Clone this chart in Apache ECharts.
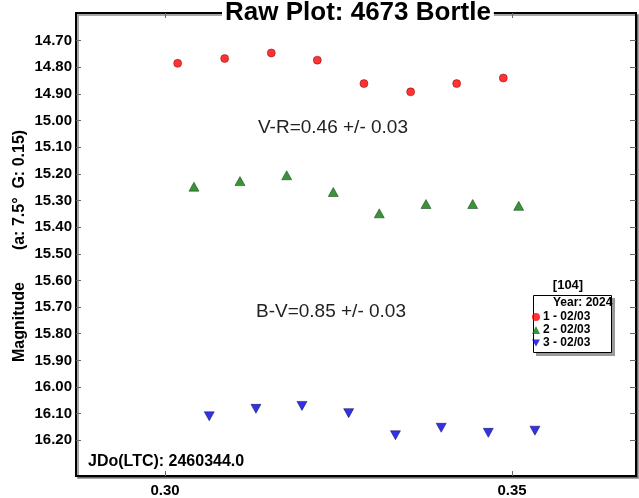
<!DOCTYPE html>
<html>
<head>
<meta charset="utf-8">
<script src="https://cdn.jsdelivr.net/npm/echarts@6/dist/echarts.min.js"></script>
<style>
  html, body { margin: 0; padding: 0; background: #fff; }
</style>
</head>
<body>
<div id="main" style="width: 639px;height:498px;"></div>
<script>
// tick labels
var yTicks = [14.70, 14.80, 14.90, 15.00, 15.10, 15.20, 15.30, 15.40, 15.50, 15.60, 15.70, 15.80, 15.90, 16.00, 16.10, 16.20];
var xTicks = [0.30, 0.35];
var yRange = [14.596, 16.334];
var xRange = [0.28718, 0.36787];

// observations: fractional JD and magnitude, one pair of arrays per set
var jd1 = [0.30183, 0.30860, 0.31532, 0.32195, 0.32867, 0.33540, 0.34203, 0.34875];
var mag1 = [14.785, 14.767, 14.746, 14.773, 14.861, 14.892, 14.861, 14.840];
var jd2 = [0.30418, 0.31081, 0.31754, 0.32425, 0.33088, 0.33761, 0.34434, 0.35097];
var mag2 = [15.248, 15.227, 15.205, 15.268, 15.348, 15.313, 15.313, 15.320];
var jd3 = [0.30638, 0.31311, 0.31974, 0.32647, 0.33321, 0.33980, 0.34659, 0.35331];
var mag3 = [16.110, 16.082, 16.071, 16.098, 16.181, 16.153, 16.172, 16.164];

var setNames = ['1 - 02/03', '2 - 02/03', '3 - 02/03'];

function pairs(xs, ys) {
    return xs.map(function (x, i) { return [x, ys[i]]; });
}

var FONT = '"Liberation Sans", Arial, sans-serif';

var myChart = echarts.init(document.getElementById('main'));

var option = {
    animation: false,
    backgroundColor: '#fff',
    title: {
        text: 'Raw Plot: 4673 Bortle',
        left: 222,
        top: 0,
        padding: [0, 3],
        backgroundColor: '#fff',
        textStyle: { fontFamily: FONT, fontSize: 26, fontWeight: 'bold', color: '#000' }
    },
    grid: {
        left: 76, right: 3, top: 13, bottom: 18,
        show: true,
        borderColor: '#000',
        borderWidth: 2,
        backgroundColor: '#fff',
        shadowColor: 'rgba(0,0,0,0.35)',
        shadowOffsetX: 2,
        shadowOffsetY: 2
    },
    xAxis: [{
        type: 'value',
        min: xRange[0], max: xRange[1],
        axisLine: { show: false },
        splitLine: { show: false },
        axisTick: { inside: true, length: 5, customValues: xTicks, lineStyle: { color: '#666' } },
        axisLabel: {
            customValues: xTicks, margin: 7,
            fontFamily: FONT, fontSize: 15, fontWeight: 'bold', color: '#000',
            formatter: function (v) { return v.toFixed(2); }
        }
    }, {
        type: 'value', position: 'top',
        min: xRange[0], max: xRange[1],
        axisLine: { show: false },
        splitLine: { show: false },
        axisTick: { inside: true, length: 5, customValues: xTicks, lineStyle: { color: '#666' } },
        axisLabel: { show: false }
    }],
    yAxis: [{
        type: 'value', inverse: true,
        min: yRange[0], max: yRange[1],
        axisLine: { show: false },
        splitLine: { show: false },
        axisTick: { inside: true, length: 5, customValues: yTicks, lineStyle: { color: '#666' } },
        axisLabel: {
            customValues: yTicks, margin: 4,
            fontFamily: FONT, fontSize: 15, fontWeight: 'bold', color: '#000',
            formatter: function (v) { return v.toFixed(2); }
        }
    }, {
        type: 'value', inverse: true, position: 'right',
        min: yRange[0], max: yRange[1],
        axisLine: { show: false },
        splitLine: { show: false },
        axisTick: { inside: true, length: 6, customValues: yTicks, lineStyle: { color: '#666' } },
        axisLabel: { show: false }
    }],
    legend: {
        orient: 'vertical',
        left: 532, top: 311,
        padding: 0,
        itemGap: 1,
        itemWidth: 8, itemHeight: 8,
        textStyle: { fontFamily: FONT, fontSize: 12, fontWeight: 'bold', color: '#000', padding: [0, 0, 0, -2] },
        itemStyle: { borderWidth: 0 },
        data: [
            { name: setNames[0], icon: 'circle' },
            { name: setNames[1], icon: 'triangle' },
            { name: setNames[2], icon: 'path://M0,0 L10,0 L5,9 Z' }
        ],
        z: 10
    },
    series: [{
        name: setNames[0], type: 'scatter',
        symbol: 'circle', symbolSize: 8,
        itemStyle: { color: '#ff0000', borderColor: '#7a0000', borderWidth: 0.6 },
        data: pairs(jd1, mag1)
    }, {
        name: setNames[1], type: 'scatter',
        symbol: 'triangle', symbolSize: [10, 9],
        itemStyle: { color: '#087808', borderColor: '#003000', borderWidth: 0.6 },
        data: pairs(jd2, mag2)
    }, {
        name: setNames[2], type: 'scatter',
        symbol: 'triangle', symbolRotate: 180, symbolSize: [10, 9],
        itemStyle: { color: '#0000dd', borderColor: '#000050', borderWidth: 0.6 },
        data: pairs(jd3, mag3)
    }],
    graphic: [
        { type: 'text', x: 20, y: 190, rotation: Math.PI / 2,
          style: { text: '(a: 7.5\u00b0  G: 0.15)', font: 'bold 16px ' + FONT, fill: '#000', textAlign: 'center', textVerticalAlign: 'middle' } },
        { type: 'text', x: 20, y: 322, rotation: Math.PI / 2,
          style: { text: 'Magnitude', font: 'bold 16px ' + FONT, fill: '#000', textAlign: 'center', textVerticalAlign: 'middle' } },
        { type: 'text', x: 88, y: 462, z: 5,
          style: { text: 'JDo(LTC): 2460344.0', font: 'bold 16px ' + FONT, fill: '#000', textVerticalAlign: 'middle' } },
        { type: 'text', x: 258, y: 128, z: 5,
          style: { text: 'V-R=0.46 +/- 0.03', font: '19px ' + FONT, fill: '#222', textVerticalAlign: 'middle' } },
        { type: 'text', x: 256, y: 312, z: 5,
          style: { text: 'B-V=0.85 +/- 0.03', font: '19px ' + FONT, fill: '#222', textVerticalAlign: 'middle' } },
        { type: 'text', x: 568, y: 285, z: 5,
          style: { text: '[104]', font: 'bold 13px ' + FONT, fill: '#000', textAlign: 'center', textVerticalAlign: 'middle' } },
        { type: 'rect', z: 5,
          shape: { x: 536, y: 298, width: 79, height: 58 },
          style: { fill: '#9a9a9a' } },
        { type: 'rect', z: 6,
          shape: { x: 533.5, y: 295.5, width: 78, height: 57 },
          style: { fill: '#fff', stroke: '#000', lineWidth: 1 } },
        { type: 'text', x: 553, y: 303, z: 7,
          style: { text: 'Year: 2024', font: 'bold 12px ' + FONT, fill: '#000', textVerticalAlign: 'middle' } }
    ]
};

myChart.setOption(option);
</script>
</body>
</html>
